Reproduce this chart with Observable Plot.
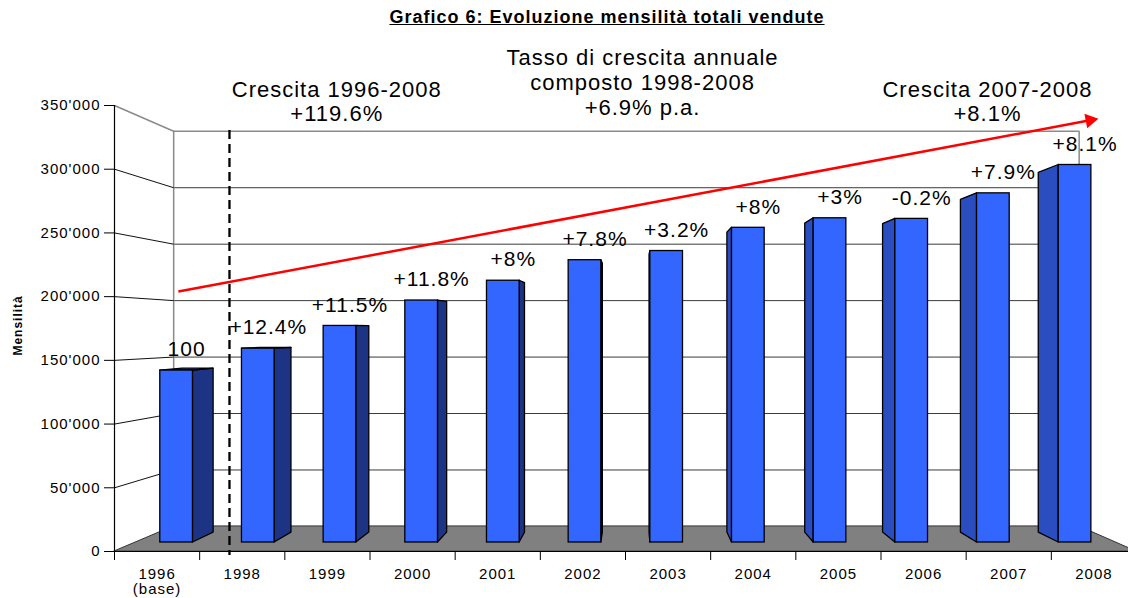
<!DOCTYPE html>
<html><head><meta charset="utf-8">
<script src="https://cdn.jsdelivr.net/npm/d3@7"></script>
<script src="https://cdn.jsdelivr.net/npm/@observablehq/plot@0.6"></script>
<style>
body{margin:0;background:#fff;font-family:"Liberation Sans",Arial,sans-serif;}
#title{position:relative;height:30px;}
#title span{position:absolute;left:607px;top:7px;transform:translateX(-50%);font-weight:bold;font-size:18px;letter-spacing:1px;text-decoration:underline;white-space:nowrap;color:#000;}
</style></head><body>
<div id="title"><span>Grafico 6: Evoluzione mensilità totali vendute</span></div>
<div id="chart"></div>
<script>
// ---- data ----
const categories = ["1996\n(base)","1998","1999","2000","2001","2002","2003","2004","2005","2006","2007","2008"];
const mensilita = [140700,158600,177200,198000,214200,231000,238500,257500,265300,264800,285700,308900];
const growthLabels = ["100","+12.4%","+11.5%","+11.8%","+8%","+7.8%","+3.2%","+8%","+3%","-0.2%","+7.9%","+8.1%"];
const yTicks = [0,50000,100000,150000,200000,250000,300000,350000];
const annotationTexts = ["Crescita 1996-2008\n+119.6%","Tasso di crescita annuale\ncomposto 1998-2008\n+6.9% p.a.","Crescita 2007-2008\n+8.1%"];
const annotationX = [2.11, 5.70, 9.75];
const annotationY = [353500, 368400, 353500];
const trendStart = {x: 0.25, y: 204000};
const trendEnd = {x: 11.0, y: 339000};
const separatorX = 0.85;

// ---- 3D projection (style) ----
const VP = {x: 5.594, y: 172600};
const sW = 0.886, sF = 0.959, sB = 0.914, HALF = 0.2;
const P = (x, y, s) => [VP.x + s * (x - VP.x), VP.y + s * (y - VP.y)];
const X0 = -0.5, X1 = categories.length - 0.5, YMAX = 350000;
const XRANGE = [114, 1136], HEIGHT = 568, MT = 75, MB = 47;

const bars = mensilita.map((v, i) => ({i, v, label: growthLabels[i]}));
const fronts = bars.map(b => {
  const [xa, ya] = P(b.i - HALF, 0, sF);
  const [xb, yb] = P(b.i + HALF, b.v, sF);
  return {x1: xa, x2: xb, y1: ya, y2: yb};
});
const sides = bars.flatMap(b => {
  const right = b.i < VP.x;
  const e = right ? b.i + HALF : b.i - HALF;
  return [sF, sB].map(s => ({bar: b.i, right, x: P(e, 0, s)[0], y1: P(e, 0, s)[1], y2: P(e, b.v, s)[1]}));
});
const tops = bars.filter(b => b.v < VP.y).flatMap(b =>
  [sF, sB].map(s => ({bar: b.i, y: P(0, b.v, s)[1], x1: P(b.i - HALF, b.v, s)[0], x2: P(b.i + HALF, b.v, s)[0]})));
const floor = [
  {y: 0, x1: X0, x2: X1},
  {y: P(0, 0, sW)[1], x1: P(X0, 0, sW)[0], x2: P(X1, 0, sW)[0]}
];
const xL = P(X0, 0, sW)[0], xR = P(X1, 0, sW)[0];
const fmt = d => d3.format(",")(d).replace(/,/g, "'");
const boundaries = d3.range(X0, X1 + 0.01, 1);

// arrow head orientation in screen space
const pxPerX = (XRANGE[1] - XRANGE[0]) / (X1 - X0);
const pxPerY = (HEIGHT - MB - MT) / YMAX;
const adx = (trendEnd.x - trendStart.x) * pxPerX, ady = (trendEnd.y - trendStart.y) * pxPerY;
const ang = Math.atan2(ady, adx);
const headRotate = 90 - ang * 180 / Math.PI;

const chart = Plot.plot({
  width: 1128, height: HEIGHT,
  marginLeft: 114, marginRight: 0, marginTop: MT, marginBottom: MB,
  x: {domain: [X0, X1], range: XRANGE},
  y: {domain: [0, YMAX]},
  style: {fontFamily: "'Liberation Sans', Arial, sans-serif", fontSize: "15px", letterSpacing: "1px", color: "#000", background: "#fff"},
  marks: [
    // floor
    Plot.areaX(floor, {y: "y", x1: "x1", x2: "x2", fill: "#808080", stroke: "#333", strokeWidth: 1}),
    // back wall grid
    Plot.ruleY(yTicks.filter(t => t > 0), {y: t => P(0, t, sW)[1], x1: () => xL, x2: () => xR,
      stroke: t => t === YMAX ? "#8a8a8a" : "#3a3a3a", strokeWidth: t => t === YMAX ? 1.5 : 1}),
    Plot.ruleX([xL, xR], {x: d => d, y1: () => P(0, 0, sW)[1], y2: () => P(0, YMAX, sW)[1], stroke: "#8a8a8a", strokeWidth: 1.5}),
    // left wall connectors
    Plot.link(yTicks.filter(t => t > 0), {x1: () => X0, y1: t => t, x2: () => xL, y2: t => P(X0, t, sW)[1],
      stroke: t => t === YMAX ? "#8a8a8a" : "#111", strokeWidth: t => t === YMAX ? 1.5 : 1}),
    // bars
    Plot.areaY(sides, {x: "x", y1: "y1", y2: "y2", z: "bar", fill: d => d.right ? "#1D3384" : "#2A4EC0", stroke: "#000", strokeWidth: 1.3}),
    Plot.areaX(tops, {y: "y", x1: "x1", x2: "x2", z: "bar", fill: "#1D3384", stroke: "#000", strokeWidth: 1.3}),
    Plot.rect(fronts, {x1: "x1", x2: "x2", y1: "y1", y2: "y2", fill: "#3366FF", stroke: "#000", strokeWidth: 1.3}),
    // front axes lines
    Plot.ruleX([X0], {y1: () => 0, y2: () => YMAX, stroke: "#000", strokeWidth: 1.2}),
    Plot.ruleY([0], {x1: () => X0, x2: () => X1, stroke: "#000", strokeWidth: 1.2}),
    Plot.axisY({ticks: yTicks, tickFormat: fmt, tickSize: 10, tickPadding: 4, fontSize: 15, label: null, stroke: "#000"}),
    Plot.axisX({anchor: "bottom", ticks: boundaries, tickFormat: () => "", tickSize: 9, label: null, stroke: "#000"}),
    Plot.axisX({anchor: "bottom", ticks: d3.range(categories.length), tickFormat: i => categories[i], tickSize: 0, tickPadding: 17, fontSize: 15, label: null}),
    // separator and trend arrow
    Plot.ruleX([separatorX], {y1: () => 330400, y2: () => -3100, stroke: "#000", strokeWidth: 2.3, strokeDasharray: "9,5"}),
    Plot.link([0], {x1: () => trendStart.x, y1: () => trendStart.y, x2: () => trendEnd.x, y2: () => trendEnd.y,
      stroke: "#ff0000", strokeWidth: 2.5}),
    Plot.dot([0], {x: () => trendEnd.x, y: () => trendEnd.y, symbol: "triangle", r: 5.5, fill: "#ff0000", stroke: "none",
      rotate: headRotate, dx: -4 * Math.cos(ang), dy: 4 * Math.sin(ang)}),
    // bar labels
    Plot.text(bars, {x: b => P(b.i, b.v, sF)[0], y: b => P(b.i, b.v, sF)[1], text: "label", dx: 10, dy: -21, fontSize: 21, fill: "#000"}),
    // annotations
    Plot.text(annotationTexts, {x: (d, i) => annotationX[i], y: (d, i) => annotationY[i], text: d => d, fontSize: 22, lineHeight: 1.13, fill: "#000"}),
    // y label
    Plot.text(["Mensilità"], {x: () => -1.63, y: () => 177400, text: d => d, rotate: -90, fontSize: 12, fontWeight: "bold", fill: "#000", letterSpacing: 0})
  ]
});
document.getElementById("chart").appendChild(chart);
</script>
</body></html>
